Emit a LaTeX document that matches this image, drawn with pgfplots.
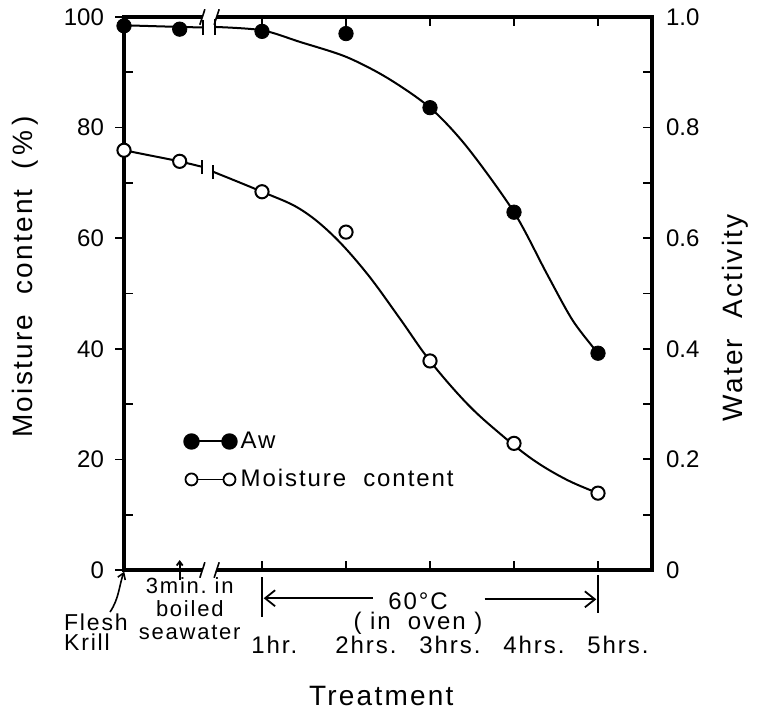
\documentclass[border=0pt]{standalone}
\usepackage{fontspec}
\setmainfont{Liberation Sans}
\newfontfamily\wf[LetterSpace=8]{Liberation Sans}
\usepackage{pgfplots}
\pgfplotsset{compat=1.18}
\usetikzlibrary{arrows.meta}
\newcommand{\fA}{\fontsize{12}{14}\selectfont}
\newcommand{\fB}{\wf\fontsize{12}{12}\selectfont}
\newcommand{\fF}{\wf\fontsize{11.5}{10}\selectfont}
\newcommand{\fS}{\wf\fontsize{11}{11.5}\selectfont}
\newcommand{\fC}{\wf\fontsize{14}{16}\selectfont}
\begin{document}
\begin{tikzpicture}
\path[use as bounding box] (0,0) rectangle (379pt,358.5pt);
\begin{axis}[
  at={(62pt,73.5pt)}, anchor=south west, scale only axis,
  width=264pt, height=276.5pt,
  xmin=-0.643, xmax=5.643, ymin=0, ymax=100,
  axis line style={line width=1.6pt},
  every tick/.style={line width=0.9pt, black},
  tick align=inside, major tick length=4.5pt,
  xtick={1,2,3,4,5}, xticklabels={1hr.,2hrs.,3hrs.,4hrs.,5hrs.},
  xtick pos=both, xticklabel pos=lower,
  xticklabel style={font=\fB, anchor=west, xshift=-8.8pt, yshift=-37.5pt},
  ytick={10,30,50,70,90}, yticklabels={}, ytick pos=left,
  extra y ticks={0,20,40,60,80,100}, extra y tick labels={0,20,40,60,80,100},
  extra y tick style={tick align=outside},
  yticklabel style={font=\fA, xshift=-2pt},
  ylabel={Moisture\ \ content\ \ (\,\%\,)},
  ylabel style={font=\fC, at={(axis description cs:-0.1875,0.53)}, anchor=center},
  clip=false,
  legend style={at={(axis cs:0.07,25.8)}, anchor=north west, draw=none, fill=none,
    font=\fB, row sep=5pt, inner sep=0pt, nodes={inner sep=2pt},
    /tikz/every even column/.append style={column sep=6pt}},
  legend cell align=left,
  legend image code/.code={\draw[#1] plot coordinates {(0pt,0pt) (19pt,0pt)};},
]
% axis breaks
\fill[white] (axis cs:0.29,-1.3) rectangle (axis cs:0.46,1.3);
\fill[white] (axis cs:0.29,98.7) rectangle (axis cs:0.46,101.3);
\draw[line width=0.8pt] (axis cs:0.26,-1.4) -- (axis cs:0.32,1.4);
\draw[line width=0.8pt] (axis cs:0.43,-1.4) -- (axis cs:0.49,1.4);
\draw[line width=0.8pt] (axis cs:0.26,98.6) -- (axis cs:0.32,101.4);
\draw[line width=0.8pt] (axis cs:0.43,98.6) -- (axis cs:0.49,101.4);
% 3 min tick
\draw[line width=0.9pt, -{Straight Barb[length=2pt,width=3pt]}] (axis cs:0.02,-1.8) -- (axis cs:0.02,1.8);
% moisture content
\addplot[forget plot, line width=1pt] coordinates {(-0.643,75.9) (0.02,73.9) (0.29,72.9)};
\addplot[forget plot, line width=1pt, smooth, tension=0.6] coordinates {
 (0.42,72.0) (1,68.4) (1.45,65.3) (1.845,60.5) (2.25,53.6) (2.64,45.5) (3,37.8) (3.44,30.1) (3.83,24.7) (4.23,19.9) (4.63,16.3) (5,13.9)};
\draw[line width=0.9pt] (axis cs:0.29,71.6) -- (axis cs:0.29,74.2);
\draw[line width=0.9pt] (axis cs:0.42,70.7) -- (axis cs:0.42,73.3);
\addplot[forget plot, only marks, mark=*, mark size=3.3pt, mark options={fill=white, draw=black, line width=1pt}] coordinates {
 (-0.643,75.9) (0.02,73.9) (1,68.4) (2,61.1) (3,37.8) (4,22.9) (5,13.9)};
\addlegendimage{line width=1pt, mark=*, mark size=3.6pt}
\addlegendentry{Aw}
\addlegendimage{line width=0.9pt, mark=*, mark size=3pt, mark options={fill=white, draw=black}}
\addlegendentry{Moisture\ \ content}
% annotations below
\node[font=\fF, align=left, anchor=west] at (axis cs:-1.44,-11.2) {Flesh\\Krill};
\draw[line width=0.8pt, -{Straight Barb[length=3pt,width=4pt]}] (axis cs:-0.81,-7.6) .. controls (axis cs:-0.70,-5.2) and (axis cs:-0.70,-2.6) .. (axis cs:-0.64,-0.3);
\node[font=\fS, align=center] at (axis cs:0.14,-6.9) {3min.\ in\\boiled\\seawater};
\draw[line width=0.9pt] (axis cs:1,-1.27) -- (axis cs:1,-8.5);
\draw[line width=0.9pt] (axis cs:5,-0.9) -- (axis cs:5,-7.8);
\draw[line width=0.9pt, -{Straight Barb[length=5pt,width=8pt]}] (axis cs:2.32,-5.1) -- (axis cs:1.02,-5.1);
\draw[line width=0.9pt, -{Straight Barb[length=5pt,width=8pt]}] (axis cs:3.65,-5.3) -- (axis cs:4.98,-5.3);
\node[font=\fB] at (axis cs:2.857,-5.6) {60°C};
\node[font=\fB] at (axis cs:2.857,-9.7) {(\ in\ \ oven\ )};
\node[font=\fC] at (axis cs:2.42,-22.8) {Treatment};
\end{axis}
\begin{axis}[
  at={(62pt,73.5pt)}, anchor=south west, scale only axis,
  width=264pt, height=276.5pt,
  xmin=-0.643, xmax=5.643, ymin=0, ymax=1,
  axis x line=none, axis y line*=right,
  axis line style={line width=1.6pt},
  every tick/.style={line width=0.9pt, black},
  tick align=inside, major tick length=4.5pt, minor tick length=4.5pt,
  ytick={0,0.2,0.4,0.6,0.8,1}, yticklabels={0,0.2,0.4,0.6,0.8,1.0},
  minor ytick={0.1,0.3,0.5,0.7,0.9},
  yticklabel style={font=\fA, xshift=3.5pt},
  ylabel={Water\ \ Activity},
  ylabel style={font=\fC, at={(axis description cs:1.157,0.456)}, anchor=center, rotate=0},
  clip=false,
]
\addplot[line width=1pt] coordinates {(-0.643,0.985) (0.02,0.982) (0.30,0.981)};
\addplot[line width=1pt, smooth, tension=0.5] coordinates {
 (0.44,0.982) (1,0.976) (1.45,0.955) (2,0.928) (2.49,0.89) (3,0.836) (3.44,0.765) (4,0.647) (4.39,0.536) (4.70,0.451) (5,0.392)};
\draw[line width=0.9pt] (axis cs:0.30,0.967) -- (axis cs:0.30,0.995);
\draw[line width=0.9pt] (axis cs:0.44,0.968) -- (axis cs:0.44,0.996);
\addplot[only marks, mark=*, mark size=3.6pt] coordinates {
 (-0.643,0.984) (0.02,0.978) (1,0.974) (2,0.970) (3,0.836) (4,0.647) (5,0.392)};
\end{axis}
\end{tikzpicture}
\end{document}
